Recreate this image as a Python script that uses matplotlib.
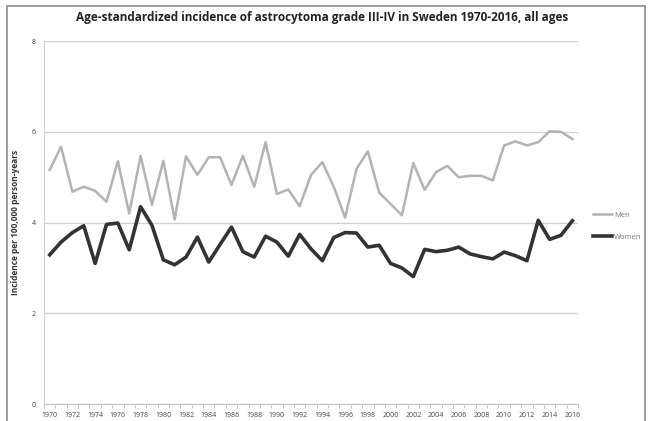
import numpy as np
import matplotlib.pyplot as plt
from matplotlib.patches import Rectangle

years = np.arange(1970, 2017)
men = [5.16, 5.67, 4.68, 4.79, 4.70, 4.46, 5.35, 4.20, 5.47, 4.39,
       5.36, 4.07, 5.46, 5.05, 5.44, 5.44, 4.83, 5.47, 4.79, 5.77,
       4.63, 4.73, 4.36, 5.05, 5.33, 4.79, 4.11, 5.18, 5.57, 4.66,
       4.41, 4.16, 5.31, 4.72, 5.11, 5.25, 5.00, 5.03, 5.03, 4.93,
       5.70, 5.79, 5.70, 5.77, 6.01, 6.00, 5.84]
women = [3.29, 3.57, 3.78, 3.93, 3.10, 3.96, 3.99, 3.40, 4.35, 3.94,
         3.18, 3.07, 3.24, 3.68, 3.13, 3.52, 3.90, 3.36, 3.24, 3.70,
         3.57, 3.26, 3.74, 3.42, 3.16, 3.67, 3.78, 3.77, 3.46, 3.50,
         3.10, 3.00, 2.81, 3.41, 3.36, 3.39, 3.46, 3.31, 3.25, 3.20,
         3.35, 3.27, 3.16, 4.05, 3.63, 3.72, 4.04]
yticks = [0, 2, 4, 6, 8]

plt.rcParams['font.family'] = ['Open Sans', 'DejaVu Sans']

fig = plt.figure(figsize=(6.51, 4.21), dpi=100)
fig.patches.append(Rectangle((0.010, -0.05), 0.981, 1.0357, transform=fig.transFigure,
                             fill=False, edgecolor='#8c8c8c', linewidth=1.2))
ax = fig.add_axes([0.0676, 0.040, 0.8203, 0.8626])

ax.plot(years, men, color='#b3b3b3', lw=1.8, label='Men')
ax.plot(years, women, color='#333333', lw=2.6, label='Women')

ax.set_xlim(1969.5, 2016.5)
ax.set_ylim(0, 8)
ax.set_yticks(yticks)
ax.set_xticks(years[::2])
ax.set_xticks(np.arange(1969.5, 2017, 1), minor=True)
ax.tick_params(axis='x', which='major', length=0, pad=6, labelsize=5, labelcolor='#444444')
ax.tick_params(axis='x', which='minor', length=3, color='#bfbfbf', direction='out')
ax.tick_params(axis='y', length=0, pad=6, labelsize=5, labelcolor='#444444')
ax.grid(axis='y', color='#d0d0d0', lw=0.9)
ax.set_axisbelow(True)
for s in ['top', 'right']:
    ax.spines[s].set_visible(False)
ax.spines['left'].set_color('#d0d0d0')
ax.spines['bottom'].set_color('#bfbfbf')

ax.set_ylabel('Incidence per 100,000 person-years', fontsize=6, fontweight='bold',
              color='#333333', labelpad=8)
fig.suptitle('Age-standardized incidence of astrocytoma grade III-IV in Sweden 1970-2016, all ages',
             x=0.495, y=0.975, fontsize=8.5, fontweight='bold', color='#222222')

leg = ax.legend(loc='center left', bbox_to_anchor=(1.015, 0.49), frameon=False,
                fontsize=5.5, handlelength=2.5, handletextpad=0.3, labelspacing=1.9)
for t in leg.get_texts():
    t.set_color('#777777')

fig.savefig('out.png', dpi=100)
